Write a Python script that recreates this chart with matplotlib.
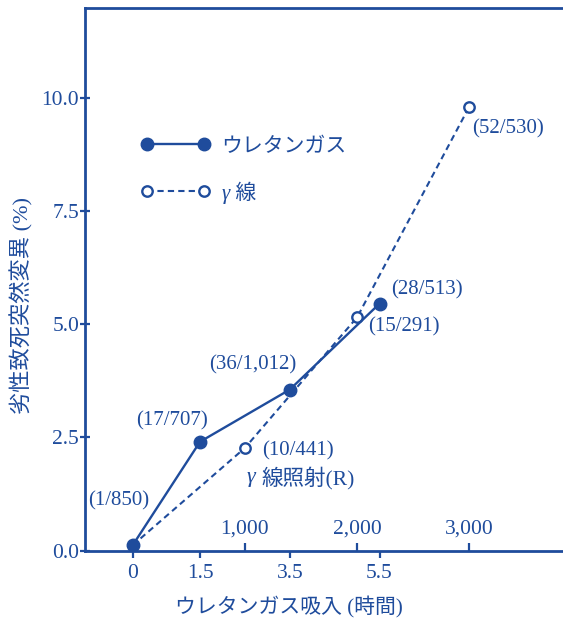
import matplotlib
matplotlib.use('Agg')
import matplotlib.pyplot as plt
from matplotlib.lines import Line2D

plt.rcParams['font.family'] = ['Liberation Serif', 'Noto Sans CJK JP', 'DejaVu Sans']

INK = '#1f4c9c'

# urethane gas exposure (hours), lethals found / chromosomes tested
gas_hours = [0, 1.5, 3.5, 5.5]
gas_lethal = [1, 17, 36, 28]
gas_tested = [850, 707, 1012, 513]

# gamma-ray dose (R); 0 R is the same untreated control
ray_dose = [0, 1000, 2000, 3000]
ray_lethal = [1, 10, 15, 52]
ray_tested = [850, 441, 291, 530]

R_PER_HOUR = 400  # dose scale drawn so that 1,000 R sits at 2.5 h

hour_ticks = [0, 1.5, 3.5, 5.5]
hour_labels = ['0', '1.5', '3.5', '5.5']
dose_ticks = [1000, 2000, 3000]
pct_ticks = [0, 2.5, 5.0, 7.5, 10.0]

# label offsets (points) from each marker
gas_offsets = [(-10, 32), (-20, 15), (-27, 17.5), (34, 10)]
ray_offsets = [None, (38, -2), (34, -7), (28, -16)]

gas_pct = [100 * n / t for n, t in zip(gas_lethal, gas_tested)]
ray_pct = [100 * n / t for n, t in zip(ray_lethal, ray_tested)]
ray_hours = [d / R_PER_HOUR for d in ray_dose]

gas_style = dict(color=INK, lw=1.7, marker='o', ms=9)
ray_style = dict(color=INK, lw=1.5, ls=(0, (3, 2)), marker='o', ms=7.5,
                 mfc='white', mec=INK, mew=1.7)

fig = plt.figure(figsize=(5.63, 6.2), dpi=100)
ax = fig.add_axes([0.151, 0.112, 0.870, 0.875])

ax.plot(gas_hours, gas_pct, zorder=3, **gas_style)
ax.plot(ray_hours, ray_pct, markevery=[1, 2, 3], zorder=2, **ray_style)

def label(x, y, n, t, off):
    ax.annotate(f'({n:,}/{t:,})', (x, y), xytext=off, textcoords='offset points',
                ha='center', va='center', fontsize=15, color=INK)

for x, y, n, t, off in zip(gas_hours, gas_pct, gas_lethal, gas_tested, gas_offsets):
    label(x, y, n, t, off)
for x, y, n, t, off in zip(ray_hours, ray_pct, ray_lethal, ray_tested, ray_offsets):
    if off is not None:
        label(x, y, n, t, off)

ax.set_xlim(-1.062, 9.851)
ax.set_ylim(0, 11.99)

ax.set_yticks(pct_ticks, labels=[f'{v:.1f}' for v in pct_ticks])
ax.set_xticks(hour_ticks, labels=hour_labels)
ax.tick_params(axis='y', direction='inout', length=6.5, width=1.6, pad=1,
               colors=INK, labelsize=15.5)
ax.tick_params(axis='x', direction='out', length=5, width=1.6, pad=5,
               colors=INK, labelsize=15.5)
for s in ax.spines.values():
    s.set_color(INK)
    s.set_linewidth(2)

# gamma dose scale, ticks and labels on the inner side of the bottom axis
sec = ax.secondary_xaxis(0, functions=(lambda h: h * R_PER_HOUR, lambda r: r / R_PER_HOUR))
sec.set_xticks(dose_ticks, labels=[f'{d:,}' for d in dose_ticks])
sec.xaxis.set_ticks_position('top')
sec.tick_params(direction='out', length=5.5, width=1.6, pad=3, colors=INK, labelsize=15.5)
for s in sec.spines.values():
    s.set_visible(False)

# name of the dose scale: italic gamma, then the kanji
ax.text(0.339, 0.134, 'γ', transform=ax.transAxes, ha='center', va='center',
        fontsize=16, style='italic', color=INK)
ax.text(0.361, 0.134, '線照射(R)', transform=ax.transAxes, ha='left', va='center',
        fontsize=15.5, color=INK)

ax.set_xlabel('ウレタンガス吸入 (時間)', fontsize=15, color=INK)
ax.xaxis.label.set_va('center')
ax.xaxis.set_label_coords(0.416, -0.104)
ax.set_ylabel('劣性致死突然変異 (%)', fontsize=16, color=INK)
ax.yaxis.label.set_va('center')
ax.yaxis.set_label_coords(-0.128, 0.452)

handles = [Line2D([], [], **gas_style), Line2D([], [], **ray_style)]
leg = ax.legend(handles, ['ウレタンガス', 'γ 線'], loc='upper left',
                bbox_to_anchor=(0.113, 0.762), frameon=False, fontsize=15,
                numpoints=2, handlelength=3.35, handletextpad=0.55, labelspacing=1.18,
                borderpad=0, borderaxespad=0, labelcolor=INK)
leg.get_texts()[1].set_style('italic')

fig.savefig('out.png', dpi=100)
